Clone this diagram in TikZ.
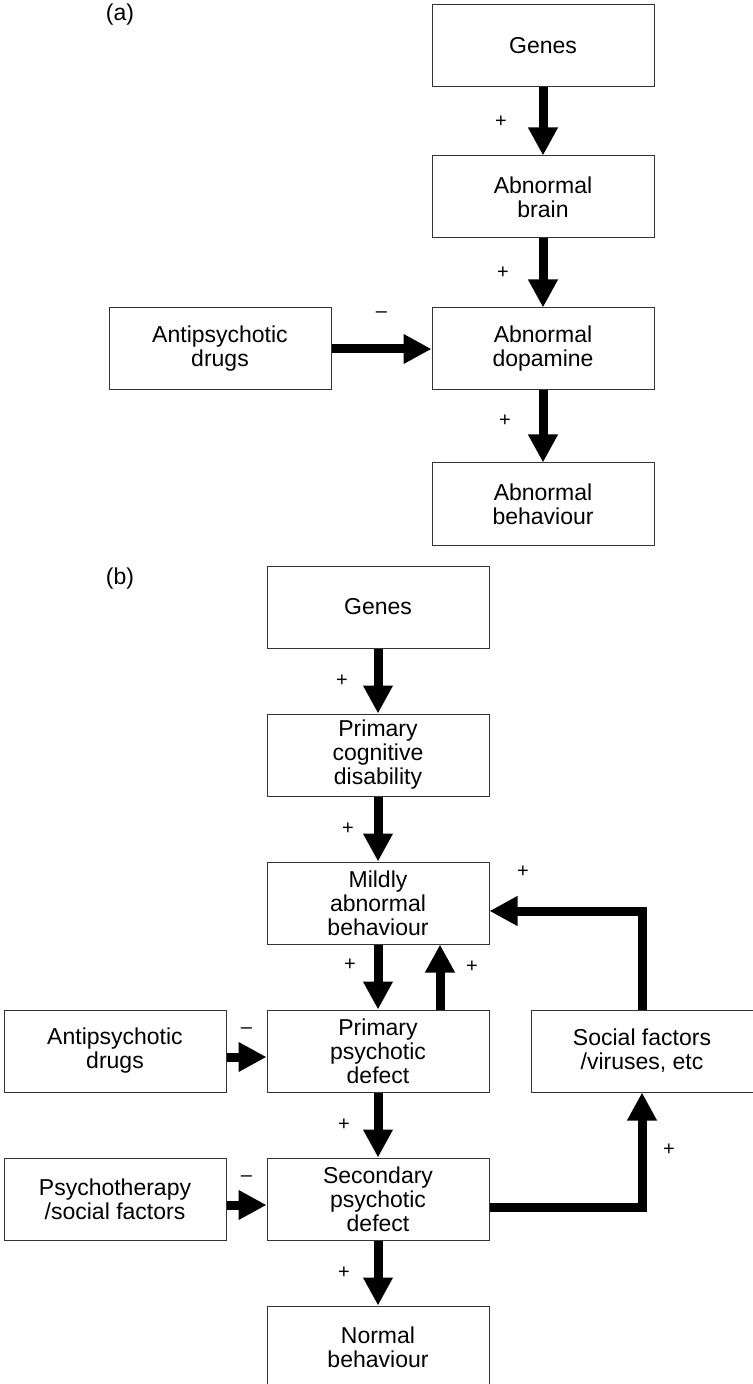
\documentclass[tikz,border=0pt]{standalone}
\usepackage{fontspec}
\setmainfont{Liberation Sans}
\usetikzlibrary{arrows.meta,positioning}

\begin{document}
\begin{tikzpicture}[x=0.5pt, y=-0.5pt,
  box/.style={draw=black!80, line width=0.5pt, minimum width=111pt, minimum height=41pt, inner sep=2pt, align=center, font=\fontsize{11.5}{12}\selectfont},
  arr/.style={-{Triangle[length=14pt, width=14pt]}, line width=4.5pt, black},
  sign/.style={font=\fontsize{10}{10}\selectfont, inner sep=0pt},
  tag/.style={font=\fontsize{11.5}{12}\selectfont, inner sep=0pt}
]
  \useasboundingbox (0,0) rectangle (753,1384);

  \node[tag] (taga) at (120,15) {(a)};
  \node[box] (genesa) at (543,46) {Genes};
  \node[box, below=34pt of genesa] (braina) {Abnormal\\brain};
  \node[box, below=34.5pt of braina] (dopa) {Abnormal\\dopamine};
  \node[box, below=36pt of dopa] (behava) {Abnormal\\behaviour};
  \node[box, left=50pt of dopa] (antia) {Antipsychotic\\drugs};

  \draw[arr] (genesa) -- node[sign, xshift=-21pt]{+} (braina);
  \draw[arr] (braina) -- node[sign, xshift=-20pt]{+} (dopa);
  \draw[arr] (dopa) -- node[sign, xshift=-19pt, yshift=3pt]{+} (behava);
  \draw[arr] (antia) -- node[sign, yshift=17pt]{--} (dopa);

  \node[tag] (tagb) at (120,579) {(b)};
  \node[box] (genesb) at (378,607) {Genes};
  \node[box, below=32.5pt of genesb] (pcd) {Primary\\cognitive\\disability};
  \node[box, below=32.5pt of pcd] (mild) {Mildly\\abnormal\\behaviour};
  \node[box, below=32.5pt of mild] (ppd) {Primary\\psychotic\\defect};
  \node[box, below=32.5pt of ppd] (spd) {Secondary\\psychotic\\defect};
  \node[box, below=32.5pt of spd] (normal) {Normal\\behaviour};
  \node[box, left=20pt of ppd] (antib) {Antipsychotic\\drugs};
  \node[box, left=20pt of spd] (therapy) {Psychotherapy\\/social factors};
  \node[box, right=20.5pt of ppd] (social) {Social factors\\/viruses, etc};

  \draw[arr] (genesb) -- node[sign, xshift=-18pt]{+} (pcd);
  \draw[arr] (pcd) -- node[sign, xshift=-15pt]{+} (mild);
  \draw[arr] (mild) -- node[sign, xshift=-14pt, yshift=6pt]{+} (ppd);
  \draw[arr] ([xshift=31pt]ppd.north) -- node[sign, xshift=16pt, yshift=5pt]{+} ([xshift=31pt]mild.south);
  \draw[arr] (ppd) -- node[sign, xshift=-17pt]{+} (spd);
  \draw[arr] (spd) -- node[sign, xshift=-17pt]{+} (normal);
  \draw[arr] ([yshift=-3pt]antib.east) -- node[sign, yshift=13pt]{--} ([yshift=-3pt]ppd.west);
  \draw[arr] ([yshift=-3pt]therapy.east) -- node[sign, yshift=13pt]{--} ([yshift=-3pt]spd.west);
  \draw[arr] (social.north) |- node[sign, pos=0.89, yshift=19.5pt]{+} ([yshift=-4pt]mild.east);
  \draw[arr] ([yshift=-4pt]spd.east) -| node[sign, pos=0.75, xshift=13.5pt]{+} (social.south);
\end{tikzpicture}
\end{document}
